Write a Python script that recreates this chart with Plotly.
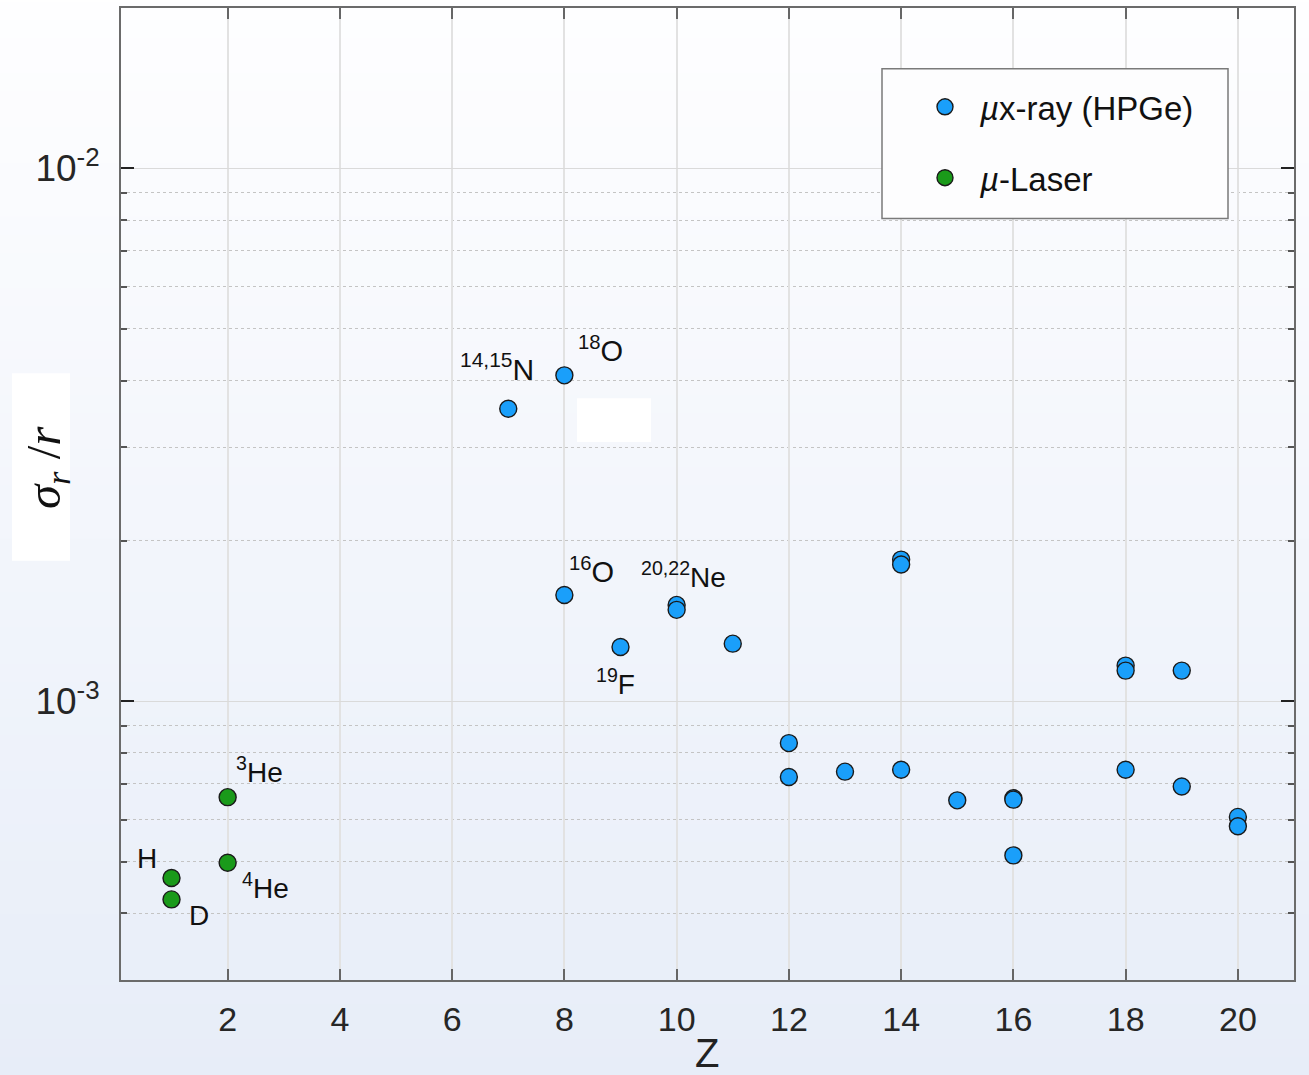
import math
import plotly.graph_objects as go

# ---------------- data ----------------
xray_z = [7, 8, 8, 9, 10, 10, 11, 12, 12, 13, 14, 14, 14, 15, 16, 16, 16, 18, 18, 18, 19, 19, 20, 20]
xray_sigma = [3.54e-3, 4.09e-3, 1.583e-3, 1.265e-3, 1.517e-3, 1.485e-3, 1.283e-3,
              8.35e-4, 7.21e-4, 7.38e-4, 1.845e-3, 1.806e-3, 7.44e-4, 6.52e-4,
              6.58e-4, 6.54e-4, 5.14e-4, 1.167e-3, 1.142e-3, 7.44e-4, 1.142e-3,
              6.92e-4, 6.07e-4, 5.83e-4]
laser_z = [1, 1, 2, 2]
laser_sigma = [4.66e-4, 4.25e-4, 6.61e-4, 4.98e-4]

x_tickvals = [2, 4, 6, 8, 10, 12, 14, 16, 18, 20]
y_tickvals = [1e-3, 1e-2]
y_ticktext = ["10<sup>-3</sup>", "10<sup>-2</sup>"]
y_minor = [m * 1e-4 for m in range(4, 10)] + [m * 1e-3 for m in range(2, 10)]

# isotope labels: (text, series, index, dx px, dy px (down positive), font size)
labels = [
    ("<sup>14,15</sup>N", "xray", 0, -11, -42, 30),
    ("<sup>18</sup>O", "xray", 1, 36, -26, 29),
    ("<sup>16</sup>O", "xray", 2, 27, -25, 29),
    ("<sup>20,22</sup>Ne", "xray", 4, 7, -30, 28),
    ("<sup>19</sup>F", "xray", 3, -5, 35, 28),
    ("<sup>3</sup>He", "laser", 2, 32, -27, 28),
    ("<sup>4</sup>He", "laser", 3, 38, 23, 28),
    ("H", "laser", 0, -25, -20, 28),
    ("D", "laser", 1, 27, 16, 28),
]

# ---------------- layout geometry ----------------
W, H = 1309, 1075
ML, MR, MT, MB = 121, 15, 6, 95
PW, PH = W - ML - MR, H - MT - MB


def px_x(px):
    return (px - ML) / PW


def px_y(py):
    return (H - MB - py) / PH


FONT = "Liberation Sans, Arial, sans-serif"
BLUE = "#1a9ffa"
GREEN = "#1a9a1a"

fig = go.Figure()
fig.add_trace(go.Scatter(
    x=xray_z, y=xray_sigma, mode="markers", name="<i>µ</i>x-ray (HPGe)",
    legendgroup="a",
    marker=dict(size=17, color=BLUE, line=dict(color="#1a1a1a", width=1.4)),
))
fig.add_trace(go.Scatter(
    x=laser_z, y=laser_sigma, mode="markers", name="<i>µ</i>-Laser",
    legendgroup="b",
    marker=dict(size=17, color=GREEN, line=dict(color="#1a1a1a", width=1.4)),
))

shapes = []
# background gradient
top_c = (254, 254, 255)
bot_c = (231, 237, 248)
nb = 60
for i in range(nb):
    t = (i + 0.5) / nb
    c = tuple(round(top_c[k] + (bot_c[k] - top_c[k]) * t) for k in range(3))
    y0 = px_y(H * i / nb)
    y1 = px_y(H * (i + 1) / nb + 1)
    shapes.append(dict(type="rect", xref="paper", yref="paper", layer="below",
                       x0=px_x(0), x1=px_x(W), y0=y1, y1=y0,
                       fillcolor="rgb(%d,%d,%d)" % c, line=dict(width=0)))
# white patches
shapes.append(dict(type="rect", xref="paper", yref="paper", layer="below",
                   x0=px_x(12), x1=px_x(70), y0=px_y(560), y1=px_y(372),
                   fillcolor="white", line=dict(width=0)))
shapes.append(dict(type="rect", xref="paper", yref="paper", layer="above",
                   x0=px_x(577), x1=px_x(651), y0=px_y(441), y1=px_y(397),
                   fillcolor="white", line=dict(width=0)))
# legend box
shapes.append(dict(type="rect", xref="paper", yref="paper", layer="above",
                   x0=px_x(882), x1=px_x(1228), y0=px_y(217), y1=px_y(67),
                   fillcolor="rgba(253,253,254,1)", line=dict(color="#7a7a7a", width=1.5)))

annotations = []
series = {"xray": (xray_z, xray_sigma), "laser": (laser_z, laser_sigma)}
for text, s, idx, dx, dy, fs in labels:
    zs, vs = series[s]
    annotations.append(dict(
        x=zs[idx], y=math.log10(vs[idx]), xref="x", yref="y", text=text,
        showarrow=False, xshift=dx, yshift=-dy, xanchor="center", yanchor="middle",
        font=dict(family=FONT, size=fs, color="#111111")))
# axis titles
annotations.append(dict(x=px_x(46), y=px_y(467), xref="paper", yref="paper",
                        text="<i>σ<sub>r</sub></i> /<i>r</i>", textangle=-90,
                        showarrow=False, xanchor="center", yanchor="middle",
                        font=dict(family="Liberation Serif, DejaVu Serif, serif", size=49, color="#111111")))
annotations.append(dict(x=px_x(707), y=px_y(1053), xref="paper", yref="paper",
                        text="Z", showarrow=False, xanchor="center", yanchor="middle",
                        font=dict(family=FONT, size=40, color="#222222")))

fig.update_layout(
    width=W, height=H,
    margin=dict(l=ML, r=MR, t=MT, b=MB),
    paper_bgcolor="white",
    plot_bgcolor="rgba(0,0,0,0)",
    shapes=shapes,
    annotations=annotations,
    showlegend=True,
    legend=dict(x=px_x(910), y=px_y(77), xanchor="left", yanchor="top",
                bgcolor="rgba(0,0,0,0)", borderwidth=0,
                font=dict(family=FONT, size=33, color="#111111"),
                tracegroupgap=25, traceorder="grouped", itemwidth=60),
    xaxis=dict(
        range=[0.1, 21], tickmode="array", tickvals=x_tickvals,
        ticks="inside", ticklen=11, tickwidth=2, tickcolor="#666666",
        showline=True, linecolor="#6b6b6b", linewidth=2, mirror="ticks",
        showgrid=True, gridcolor="#e2e2e2", gridwidth=1.5, zeroline=False,
        tickfont=dict(family=FONT, size=34, color="#262626"),
        ticklabelstandoff=8,
    ),
    yaxis=dict(
        type="log", range=[math.log10(3e-4), math.log10(2e-2)],
        tickmode="array", tickvals=y_tickvals, ticktext=y_ticktext,
        ticks="inside", ticklen=13, tickwidth=1.5, tickcolor="#222222",
        showline=True, linecolor="#6b6b6b", linewidth=2, mirror="ticks",
        showgrid=True, gridcolor="#dadada", gridwidth=1.2, zeroline=False,
        tickfont=dict(family=FONT, size=37, color="#262626"),
        ticklabelstandoff=12,
        minor=dict(tickmode="array", tickvals=y_minor, ticks="inside", ticklen=6,
                   tickwidth=1.5, tickcolor="#555555", showgrid=True,
                   griddash="dot", gridcolor="#c4c4c4", gridwidth=1.2),
    ),
)

fig.write_html(
    "out.html",
    config={"displayModeBar": False},
    post_script="document.body.style.margin='0';document.documentElement.style.overflow='hidden';",
)
